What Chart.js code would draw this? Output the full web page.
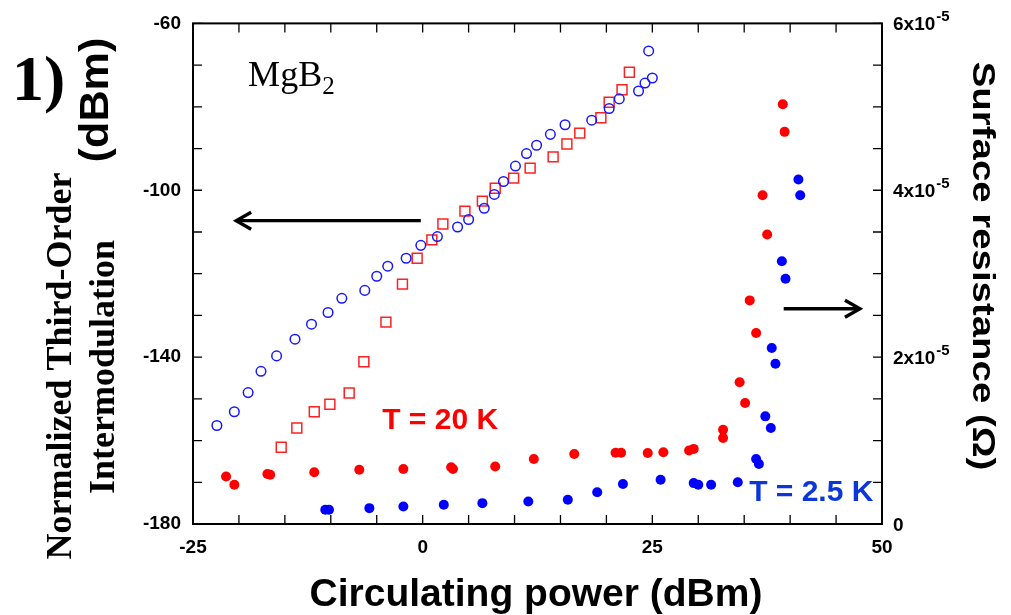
<!DOCTYPE html>
<html><head><meta charset="utf-8">
<script src="https://cdn.jsdelivr.net/npm/chart.js@4.4.0/dist/chart.umd.min.js"></script>
<style>html,body{margin:0;padding:0;background:#fff;}#wrap{width:1011px;height:615px;}</style>
</head><body><div id="wrap"><canvas id="c" width="1011" height="615"></canvas></div>
<script>
// Third-order intermodulation (dBm), left axis
const imdBlueX = [-22.4,-20.5,-19.0,-17.6,-15.9,-13.9,-12.1,-10.3,-8.8,-6.3,-5.0,-3.8,-1.8,-0.2,1.6,3.8,5.0,6.7,7.8,8.8,10.1,11.3,12.4,13.9,15.5,18.4,20.3,21.4,23.5,24.2,25.0,24.6];
const imdBlueY = [-156.4,-153.1,-148.5,-143.4,-139.7,-135.7,-132.1,-129.3,-125.9,-124.0,-120.6,-118.2,-116.3,-113.2,-111.1,-108.8,-107.0,-104.3,-101.0,-97.9,-94.2,-91.2,-89.2,-86.6,-84.3,-83.2,-80.4,-78.1,-76.2,-74.3,-73.1,-66.6];
const imdRedX = [-15.4,-13.7,-11.8,-10.1,-8.0,-6.4,-4.0,-2.2,-0.6,1.0,2.2,4.6,6.5,7.9,9.9,11.7,14.2,15.7,17.1,19.4,20.3,21.7,22.5];
const imdRedY = [-161.6,-157.0,-153.1,-151.3,-148.6,-141.1,-131.6,-122.5,-116.3,-111.9,-108.1,-105.0,-102.6,-99.5,-97.1,-94.7,-92.0,-88.9,-86.3,-82.6,-78.9,-75.9,-71.7];
// Surface resistance, right axis, in units of 1e-5 Ohm
const rsRedX = [-21.4,-20.5,-16.9,-16.6,-11.8,-6.9,-2.1,3.1,3.3,7.9,12.1,16.5,21.0,21.6,24.5,26.2,29.0,29.5,32.7,32.7,34.5,35.1,35.6,36.3,37.0,37.5,39.2,39.4];
const rsRedY = [0.57,0.47,0.60,0.59,0.62,0.65,0.66,0.68,0.66,0.69,0.78,0.84,0.855,0.855,0.85,0.86,0.88,0.90,1.13,1.03,1.70,1.45,2.68,2.29,3.94,3.47,5.03,4.70];
const rsBlueX = [-10.6,-10.2,-5.8,-2.1,2.3,6.5,11.5,15.8,19.0,21.8,25.9,29.5,30.0,31.4,34.3,36.3,36.6,37.3,37.9,38.0,38.4,39.1,39.5,40.9,41.1];
const rsBlueY = [0.17,0.17,0.19,0.21,0.23,0.25,0.27,0.29,0.38,0.48,0.53,0.49,0.47,0.47,0.50,0.78,0.72,1.29,1.15,2.11,1.92,3.15,2.94,4.13,3.94];

// tick marks / labels
const xTickMarks = [-25,-20,-15,-10,-5,0,5,10,15,20,25,30,35,40,45,50];
const yTickMarks = [-180,-170,-160,-150,-140,-130,-120,-110,-100,-90,-80,-70,-60];
const y2TickMarks = [0,0.5,1,1.5,2,2.5,3,3.5,4,4.5,5,5.5,6];
const y2Labels = [0,2,4,6];

const pts = (xs, ys) => xs.map((x, i) => ({x: x, y: ys[i]}));
const SANS = '"Liberation Sans", Arial, sans-serif';
const SERIF = '"Liberation Serif", "Times New Roman", serif';

function txt(ctx, s, x, y, opt) {
  ctx.save();
  ctx.translate(x, y);
  if (opt.rot) ctx.rotate(opt.rot);
  if (opt.sx) ctx.scale(opt.sx, 1);
  ctx.font = opt.font;
  ctx.fillStyle = opt.color || '#000';
  ctx.textAlign = opt.align || 'left';
  ctx.textBaseline = opt.base || 'alphabetic';
  ctx.fillText(s, 0, 0);
  ctx.restore();
}
function arrow(ctx, x1, y, x2) {
  const d = x2 > x1 ? -1 : 1;
  ctx.save();
  ctx.strokeStyle = '#000';
  ctx.lineWidth = 3.3;
  ctx.lineCap = 'butt';
  ctx.beginPath(); ctx.moveTo(x1, y); ctx.lineTo(x2 + d * 2, y); ctx.stroke();
  ctx.beginPath(); ctx.moveTo(x2 + d * 15, y - 8.5); ctx.lineTo(x2, y); ctx.lineTo(x2 + d * 15, y + 8.5); ctx.stroke();
  ctx.restore();
}

const deco = {
  id: 'deco',
  afterDraw(chart) {
    const ctx = chart.ctx, a = chart.chartArea;
    const sx = chart.scales.x, sy = chart.scales.y, sy2 = chart.scales.y2;
    ctx.save();
    ctx.strokeStyle = '#000';
    ctx.lineWidth = 1.3;
    ctx.beginPath();
    xTickMarks.forEach(v => { const p = sx.getPixelForValue(v);
      ctx.moveTo(p, a.bottom); ctx.lineTo(p, a.bottom - 9);
      ctx.moveTo(p, a.top); ctx.lineTo(p, a.top + 9); });
    yTickMarks.forEach(v => { const p = sy.getPixelForValue(v);
      ctx.moveTo(a.left, p); ctx.lineTo(a.left + 9, p); });
    y2TickMarks.forEach(v => { const p = sy2.getPixelForValue(v);
      ctx.moveTo(a.right, p); ctx.lineTo(a.right - 9, p); });
    ctx.stroke();
    ctx.lineWidth = 2;
    ctx.strokeRect(a.left, a.top, a.right - a.left, a.bottom - a.top);
    ctx.restore();

    // right axis labels with superscript
    y2Labels.forEach(v => {
      const p = sy2.getPixelForValue(v);
      const base = v === 0 ? '0' : v + 'x10';
      txt(ctx, base, a.right + 11, p + 7, {font: 'bold 19px ' + SANS});
      if (v !== 0) {
        ctx.save(); ctx.font = 'bold 19px ' + SANS;
        const w = ctx.measureText(base).width; ctx.restore();
        txt(ctx, '-5', a.right + 11 + w + 1, p - 2, {font: 'bold 15px ' + SANS});
      }
    });

    // arrows (in data coordinates)
    arrow(ctx, sx.getPixelForValue(-0.2), sy.getPixelForValue(-107.3), sx.getPixelForValue(-20.3));
    arrow(ctx, sx.getPixelForValue(39.3), sy2.getPixelForValue(2.58), sx.getPixelForValue(47.6));

    // in-plot annotations
    txt(ctx, 'T = 20 K', sx.getPixelForValue(1.9), sy.getPixelForValue(-155.3), {font: 'bold 30px ' + SANS, color: '#ff0000', align: 'center', base: 'middle'});
    txt(ctx, 'T = 2.5 K', sx.getPixelForValue(42.3), sy.getPixelForValue(-172.6), {font: 'bold 30px ' + SANS, color: '#0b36d8', align: 'center', base: 'middle'});
    const mx = sx.getPixelForValue(-19.0), my = sy.getPixelForValue(-74.9);
    txt(ctx, 'MgB', mx, my, {font: '36px ' + SERIF});
    ctx.save(); ctx.font = '36px ' + SERIF; const mw = ctx.measureText('MgB').width; ctx.restore();
    txt(ctx, '2', mx + mw, my + 8, {font: '25px ' + SERIF});

    // titles
    txt(ctx, '1)', 12, 100, {font: 'bold 64px ' + SERIF});
    txt(ctx, 'Normalized Third-Order', 71, 366, {font: 'bold 36px ' + SERIF, rot: -Math.PI / 2, align: 'center'});
    txt(ctx, 'Intermodulation', 114, 367, {font: 'bold 36px ' + SERIF, rot: -Math.PI / 2, align: 'center'});
    txt(ctx, '(dBm)', 108, 100, {font: 'bold 40px ' + SANS, rot: -Math.PI / 2, align: 'center', sx: 1.08});
    txt(ctx, 'Surface resistance (\u03A9)', 973, 266, {font: 'bold 32px ' + SANS, rot: Math.PI / 2, align: 'center', sx: 1.2});
    txt(ctx, 'Circulating power (dBm)', 536, 606, {font: 'bold 39px ' + SANS, align: 'center'});
  }
};

new Chart(document.getElementById('c'), {
  type: 'scatter',
  data: {
    datasets: [
      {data: pts(imdBlueX, imdBlueY), yAxisID: 'y', pointStyle: 'circle', radius: 4.8, borderColor: '#1818ff', backgroundColor: 'rgba(0,0,0,0)', borderWidth: 1.5},
      {data: pts(imdRedX, imdRedY), yAxisID: 'y', pointStyle: 'rect', radius: 7, borderColor: '#ff2020', backgroundColor: 'rgba(0,0,0,0)', borderWidth: 1.5},
      {data: pts(rsRedX, rsRedY), yAxisID: 'y2', pointStyle: 'circle', radius: 5, borderColor: '#ff0000', backgroundColor: '#ff0000', borderWidth: 0},
      {data: pts(rsBlueX, rsBlueY), yAxisID: 'y2', pointStyle: 'circle', radius: 5, borderColor: '#0000ff', backgroundColor: '#0000ff', borderWidth: 0}
    ]
  },
  options: {
    responsive: false, animation: false, devicePixelRatio: 1,
    layout: {padding: {top: 19, left: 0, right: 0, bottom: 0}},
    plugins: {legend: {display: false}, tooltip: {enabled: false}},
    scales: {
      x: {type: 'linear', position: 'bottom', min: -25, max: 50,
          grid: {display: false, drawTicks: false}, border: {display: false},
          ticks: {stepSize: 25, maxRotation: 0, padding: 12, color: '#000', font: {family: SANS, size: 19, weight: 'bold'}},
          afterFit: s => { s.height = 91; }},
      y: {type: 'linear', position: 'left', min: -180, max: -60,
          grid: {display: false, drawTicks: false}, border: {display: false},
          ticks: {stepSize: 40, padding: 12, color: '#000', font: {family: SANS, size: 19, weight: 'bold'}},
          afterFit: s => { s.width = 193; }},
      y2: {type: 'linear', position: 'right', min: 0, max: 6,
           grid: {display: false, drawTicks: false}, border: {display: false},
           ticks: {display: false, stepSize: 2},
           afterFit: s => { s.width = 129; }}
    }
  },
  plugins: [deco]
});
</script></body></html>
